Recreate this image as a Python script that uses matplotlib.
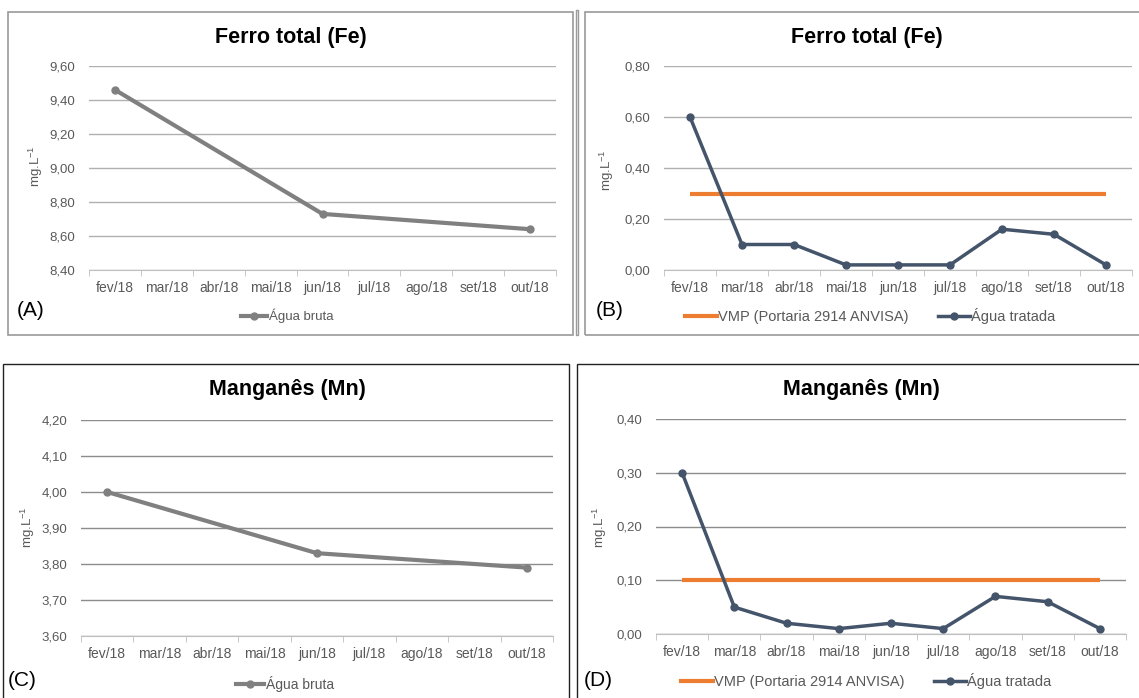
import matplotlib.pyplot as plt
from matplotlib.lines import Line2D
from matplotlib.patches import Rectangle
from matplotlib.ticker import FixedLocator, FuncFormatter

plt.rcParams["font.family"] = ["Liberation Sans", "DejaVu Sans"]
plt.rcParams["mathtext.fontset"] = "custom"
plt.rcParams["mathtext.rm"] = "Liberation Sans"

W, H = 1139, 698

meses = ["fev/18", "mar/18", "abr/18", "mai/18", "jun/18",
         "jul/18", "ago/18", "set/18", "out/18"]

# water before treatment: sampled only in fev, jun and out
idx_bruta = [0, 4, 8]
fe_bruta = [9.46, 8.73, 8.64]
mn_bruta = [4.00, 3.83, 3.79]

# treated water, every month
fe_tratada = [0.60, 0.10, 0.10, 0.02, 0.02, 0.02, 0.16, 0.14, 0.02]
mn_tratada = [0.30, 0.05, 0.02, 0.01, 0.02, 0.01, 0.07, 0.06, 0.01]

# maximum allowed value
vmp_fe = 0.30
vmp_mn = 0.10

fe_bruta_ticks = [8.40, 8.60, 8.80, 9.00, 9.20, 9.40, 9.60]
fe_tratada_ticks = [0.00, 0.20, 0.40, 0.60, 0.80]
mn_bruta_ticks = [3.60, 3.70, 3.80, 3.90, 4.00, 4.10, 4.20]
mn_tratada_ticks = [0.00, 0.10, 0.20, 0.30, 0.40]

C_BRUTA = "#808080"
C_TRAT = "#44546a"
C_VMP = "#ed7d31"
C_TXT = "#595959"


def rect(l, t, r, b):
    return [l / W, 1 - b / H, (r - l) / W, (b - t) / H]


def fx(x):
    return x / W


def fy(y):
    return 1 - y / H


fig = plt.figure(figsize=(W / 100, H / 100), dpi=100)


def frame(l, t, r, b, color, lw=1.2):
    fig.add_artist(Rectangle((fx(l), fy(b)), fx(r) - fx(l), fy(t) - fy(b),
                             transform=fig.transFigure, fill=False,
                             edgecolor=color, linewidth=lw))


def setup_axes(box, ticks, grid_color, title, title_xy, ylab_xy, letter, letter_xy):
    ax = fig.add_axes(rect(*box))
    ax.set_xlim(-0.5, len(meses) - 0.5)
    ax.set_ylim(ticks[0], ticks[-1])
    for s in ("left", "right", "top"):
        ax.spines[s].set_visible(False)
    ax.spines["bottom"].set_color("#bfbfbf")
    ax.yaxis.set_major_locator(FixedLocator(ticks))
    ax.yaxis.set_major_formatter(FuncFormatter(lambda v, _: f"{v:.2f}".replace(".", ",")))
    ax.tick_params(axis="y", length=0, pad=10, labelsize=9.5, labelcolor=C_TXT)
    ax.set_xticks(range(len(meses)))
    ax.set_xticklabels(meses)
    ax.set_xticks([i - 0.5 for i in range(len(meses) + 1)], minor=True)
    ax.tick_params(axis="x", which="major", length=0, pad=8, labelsize=10, labelcolor=C_TXT)
    ax.tick_params(axis="x", which="minor", length=4, color="#bfbfbf")
    ax.grid(axis="y", color=grid_color, linewidth=1.0)
    ax.set_axisbelow(True)
    fig.text(fx(title_xy[0]), fy(title_xy[1]), title, ha="center", va="center",
             fontsize=15.5, fontweight="bold", color="black")
    fig.text(fx(ylab_xy[0]), fy(ylab_xy[1]), r"mg.L$^{\mathregular{-1}}$", rotation=90,
             ha="center", va="center", fontsize=9.5, color=C_TXT)
    fig.text(fx(letter_xy[0]), fy(letter_xy[1]), letter, ha="left", va="center",
             fontsize=15, color="black")
    return ax


# panel frames
frame(8, 12, 573, 335, "#9a9a9a")
frame(576, 10, 578, 335, "#9a9a9a", lw=1.0)
frame(585, 12, 1145, 335, "#9a9a9a")
frame(3, 364, 569, 705, "#222222", lw=1.0)
frame(577, 364, 1145, 705, "#222222", lw=1.0)

# (A) iron, raw water
ax = setup_axes((89, 66, 556, 270), fe_bruta_ticks, "#b0b0b0", "Ferro total (Fe)",
                (291, 37), (36, 166), "(A)", (17, 311))
ax.plot(idx_bruta, fe_bruta, color=C_BRUTA, lw=3, marker="o", ms=5)
h = [Line2D([], [], color=C_BRUTA, lw=3, marker="o", ms=5)]
fig.legend(h, ["Água bruta"], loc="center", bbox_to_anchor=(fx(287), fy(316)),
           frameon=False, fontsize=9.5, handlelength=2.0, handletextpad=0.1,
           labelcolor=C_TXT)

# (B) iron, treated water
ax = setup_axes((664, 66, 1132, 270), fe_tratada_ticks, "#b0b0b0", "Ferro total (Fe)",
                (867, 37), (607, 170), "(B)", (596, 311))
ax.plot([0, len(meses) - 1], [vmp_fe, vmp_fe], color=C_VMP, lw=3, solid_capstyle="butt")
ax.plot(range(len(meses)), fe_tratada, color=C_TRAT, lw=2.5, marker="o", ms=5)
h = [Line2D([], [], color=C_VMP, lw=3),
     Line2D([], [], color=C_TRAT, lw=2.5, marker="o", ms=5)]
fig.legend(h, ["VMP (Portaria 2914 ANVISA)", "Água tratada"], loc="center",
           bbox_to_anchor=(fx(870), fy(316)), ncol=2, frameon=False, fontsize=10.5,
           handlelength=2.2, handletextpad=0.1, columnspacing=2.0, labelcolor=C_TXT)

# (C) manganese, raw water
ax = setup_axes((81, 420, 553, 636), mn_bruta_ticks, "#8c8c8c", "Manganês (Mn)",
                (287, 390), (28, 527), "(C)", (8, 681))
ax.plot(idx_bruta, mn_bruta, color=C_BRUTA, lw=3, marker="o", ms=5)
h = [Line2D([], [], color=C_BRUTA, lw=3, marker="o", ms=5)]
fig.legend(h, ["Água bruta"], loc="center", bbox_to_anchor=(fx(285), fy(684)),
           frameon=False, fontsize=10, handlelength=2.0, handletextpad=0.1,
           labelcolor=C_TXT)

# (D) manganese, treated water
ax = setup_axes((656, 419, 1126, 634), mn_tratada_ticks, "#8c8c8c", "Manganês (Mn)",
                (861, 389), (600, 527), "(D)", (584, 680))
ax.plot([0, len(meses) - 1], [vmp_mn, vmp_mn], color=C_VMP, lw=3, solid_capstyle="butt")
ax.plot(range(len(meses)), mn_tratada, color=C_TRAT, lw=2.5, marker="o", ms=5)
h = [Line2D([], [], color=C_VMP, lw=3),
     Line2D([], [], color=C_TRAT, lw=2.5, marker="o", ms=5)]
fig.legend(h, ["VMP (Portaria 2914 ANVISA)", "Água tratada"], loc="center",
           bbox_to_anchor=(fx(866), fy(681)), ncol=2, frameon=False, fontsize=10.5,
           handlelength=2.2, handletextpad=0.1, columnspacing=2.0, labelcolor=C_TXT)

fig.savefig("out.png", dpi=100, facecolor="white")
